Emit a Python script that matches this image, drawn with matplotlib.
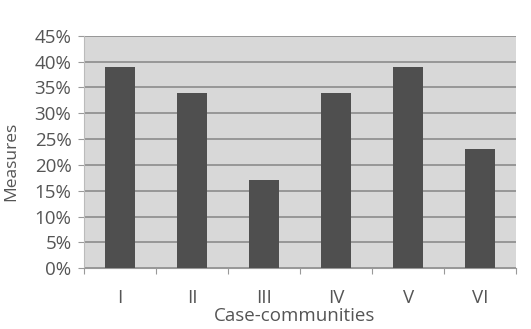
import numpy as np
import matplotlib.pyplot as plt
from matplotlib.ticker import FixedLocator, PercentFormatter

plt.rcParams['font.family'] = ['Open Sans', 'DejaVu Sans']

communities = ['I', 'II', 'III', 'IV', 'V', 'VI']
measures = [39, 34, 17, 34, 39, 23]

text_col = '#555555'
bar_col = '#4f4f4f'
grid_col = '#8c8c8c'

fig = plt.figure(figsize=(5.31, 3.29), dpi=100)
ax = fig.add_axes([0.158, 0.185, 0.814, 0.706])

x = np.arange(len(communities))
ax.bar(x, measures, width=0.42, color=bar_col, zorder=3)

ax.set_facecolor('#d8d8d8')
ax.set_xlim(-0.5, len(communities) - 0.5)
ax.set_ylim(0, 45)
ax.set_yticks(np.arange(0, 46, 5))
ax.yaxis.set_major_formatter(PercentFormatter(decimals=0))
ax.yaxis.grid(True, color=grid_col, linewidth=1.2, zorder=1)

# tick marks between categories, labels centred under the bars
ax.xaxis.set_major_locator(FixedLocator(np.arange(-0.5, len(communities), 1)))
ax.xaxis.set_minor_locator(FixedLocator(x))
ax.set_xticklabels([], minor=False)
ax.set_xticklabels(communities, minor=True)
ax.tick_params(axis='x', which='minor', length=0, pad=15, labelsize=13.5, labelcolor=text_col)
ax.tick_params(axis='x', which='major', length=4, color='#999999', direction='out')
ax.tick_params(axis='y', length=4, color='#999999', labelsize=13.5, labelcolor=text_col, pad=5)

for side in ['top', 'right']:
    ax.spines[side].set_visible(False)
ax.spines['left'].set_color('#bbbbbb')
ax.spines['bottom'].set_color('#999999')

ax.set_xlabel('Case-communities', fontsize=13.5, color=text_col, va='center')
ax.xaxis.set_label_coords(0.488, -0.207)
ax.set_ylabel('Measures', fontsize=12.5, color=text_col, va='center')
ax.yaxis.set_label_coords(-0.169, 0.46)

fig.savefig('out.png', dpi=100)
